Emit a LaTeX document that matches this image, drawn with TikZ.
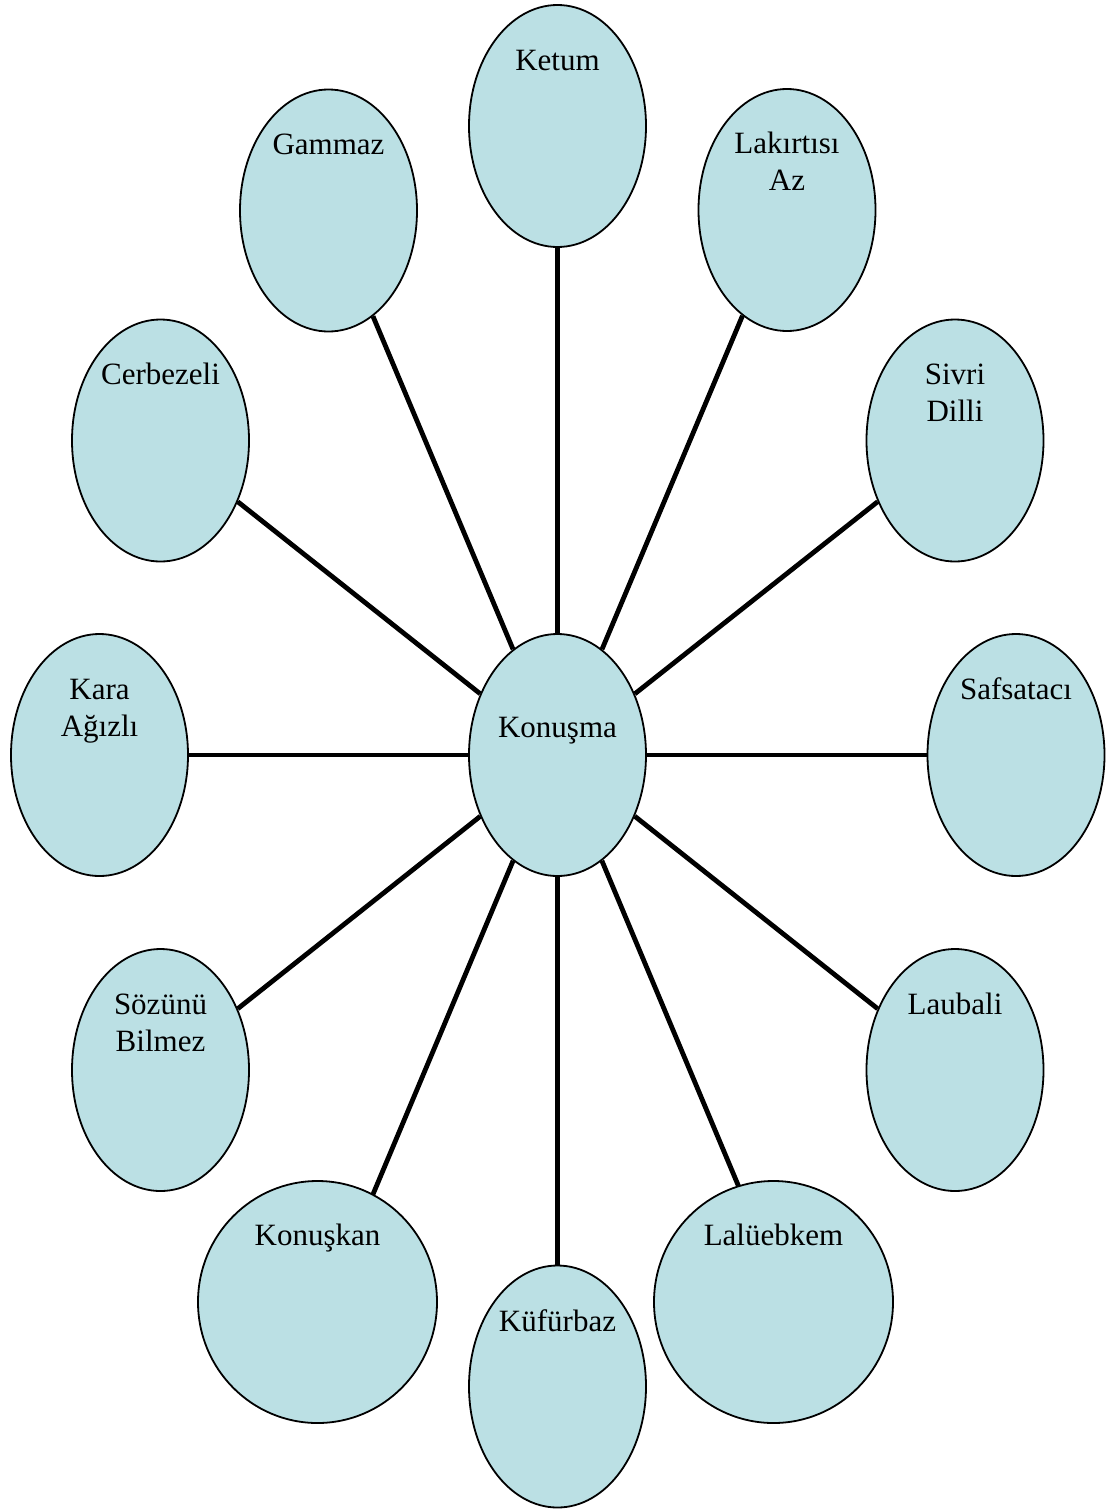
\documentclass[tikz,border=0pt]{standalone}
\usepackage{fontspec}
\setmainfont{Liberation Serif}
\usetikzlibrary{shapes.geometric}
\definecolor{bub}{RGB}{187,224,228}
\begin{document}
\begin{tikzpicture}[x=1pt,y=-1pt,
  bubble/.style={ellipse,draw=black,line width=1.8pt,fill=bub,inner sep=0pt,minimum width=177pt,minimum height=242pt},
  wide/.style={bubble,minimum width=239pt},
  lbl/.style={anchor=base,inner sep=0pt,font=\fontsize{31}{37}\selectfont},
  link/.style={line width=4.8pt}]
\useasboundingbox (0,0) rectangle (1117,1510);
% ellipses
\node[bubble] (ketum) at (557.5,126) {};
\node[bubble] (gammaz) at (328.5,210.5) {};
\node[bubble] (lak) at (787,210) {};
\node[bubble] (cerb) at (160.5,440.5) {};
\node[bubble] (sivri) at (955,440.5) {};
\node[bubble] (kara) at (99.5,755) {};
\node[bubble] (konusma) at (557.5,755) {};
\node[bubble] (safs) at (1016,755) {};
\node[bubble] (soz) at (160.5,1070) {};
\node[bubble] (laub) at (955,1070) {};
\node[wide] (konuskan) at (317.5,1302) {};
\node[wide] (lalu) at (773.5,1302) {};
\node[bubble] (kufur) at (557.5,1386.5) {};
\coordinate (konuskanpt) at (372.9,1194.5);
\coordinate (lalupt) at (738.6,1186.3);
% connectors
\foreach \n in {ketum,gammaz,lak,cerb,sivri,kara,safs,soz,laub,konuskanpt,lalupt,kufur}
  \draw[link] (konusma) -- (\n);
% labels
\node[lbl] (t1) at (557.5,70) {Ketum};
\node[lbl] (t2) at (328.5,154) {Gammaz};
\node[lbl] (t3a) at (787,153) {Lakırtısı};
\node[lbl] (t3b) at (787,190) {Az};
\node[lbl] (t4) at (160.5,384) {Cerbezeli};
\node[lbl] (t5a) at (955,384) {Sivri};
\node[lbl] (t5b) at (955,421) {Dilli};
\node[lbl] (t6a) at (99.5,699) {Kara};
\node[lbl] (t6b) at (99.5,736) {Ağızlı};
\node[lbl] (t7) at (557.5,737) {Konuşma};
\node[lbl] (t8) at (1016,699) {Safsatacı};
\node[lbl] (t9a) at (160.5,1014) {Sözünü};
\node[lbl] (t9b) at (160.5,1051) {Bilmez};
\node[lbl] (t10) at (955,1014) {Laubali};
\node[lbl] (t11) at (317.5,1245) {Konuşkan};
\node[lbl] (t12) at (773.5,1245) {Lalüebkem};
\node[lbl] (t13) at (557.5,1331) {Küfürbaz};
\end{tikzpicture}
\end{document}
